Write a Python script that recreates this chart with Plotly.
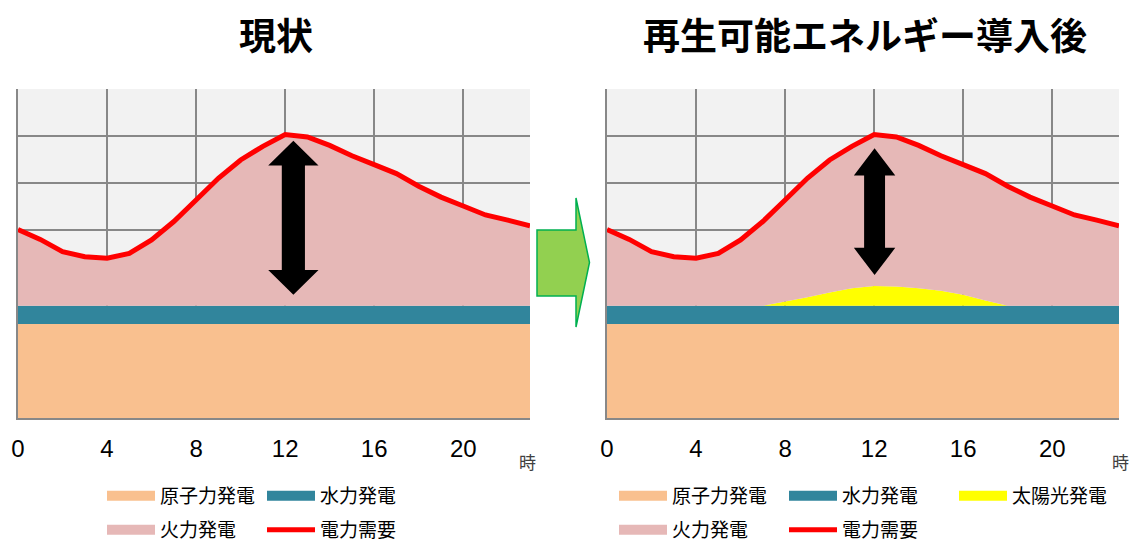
import plotly.graph_objects as go

hours = list(range(24))
demand = [401, 380, 354, 343, 340, 350, 379, 418, 464, 510, 549, 578,
          603, 598, 580, 558, 539, 520, 493, 470, 451, 432, 421, 409]
nuclear = [200] * 24
hydro = [39] * 24
solar = [0, 0, 0, 0, 0, 0, 0, 0, 9, 18, 28, 37,
         42, 41, 37, 32, 23, 11, 0, 0, 0, 0, 0, 0]
xticks = [0, 4, 8, 12, 16, 20]

C_NUC = "#f9c08f"
C_HYD = "#31859c"
C_THR = "#e6b8b7"
C_SOL = "#ffff00"
C_DEM = "#ff0000"
FONT = "Noto Sans CJK JP"

W, H = 1131, 542
L, R, T, B = 18, 12, 89, 124
PW, PH = W - L - R, H - T - B

fig = go.Figure()

def add_chart(xa, ya, with_solar, leg_a, leg_b):
    thermal = [d - n - h - (s if with_solar else 0)
               for d, n, h, s in zip(demand, nuclear, hydro, solar)]
    grp = "g" + xa
    fig.add_trace(go.Scatter(x=hours, y=nuclear, stackgroup=grp, mode="none",
                             fillcolor=C_NUC, name="原子力発電", xaxis=xa, yaxis=ya,
                             showlegend=False, hoverinfo="skip"))
    fig.add_trace(go.Scatter(x=hours, y=hydro, stackgroup=grp, mode="none",
                             fillcolor=C_HYD, name="水力発電", xaxis=xa, yaxis=ya,
                             showlegend=False, hoverinfo="skip"))
    if with_solar:
        fig.add_trace(go.Scatter(x=hours, y=solar, stackgroup=grp, mode="none",
                                 fillcolor=C_SOL, name="太陽光発電", xaxis=xa, yaxis=ya,
                                 showlegend=False, hoverinfo="skip"))
    fig.add_trace(go.Scatter(x=hours, y=thermal, stackgroup=grp, mode="none",
                             fillcolor=C_THR, name="火力発電", xaxis=xa, yaxis=ya,
                             showlegend=False, hoverinfo="skip"))
    fig.add_trace(go.Scatter(x=hours, y=demand, mode="lines",
                             line=dict(color=C_DEM, width=5), name="電力需要",
                             xaxis=xa, yaxis=ya, showlegend=False))
    # legend entries
    row1 = [("原子力発電", C_NUC, 10), ("水力発電", C_HYD, 10)]
    if with_solar:
        row1.append(("太陽光発電", C_SOL, 10))
    row2 = [("火力発電", C_THR, 10), ("電力需要", C_DEM, 5)]
    for items, lg in ((row1, leg_a), (row2, leg_b)):
        for name, col, w in items:
            fig.add_trace(go.Scatter(x=[None], y=[None], mode="lines",
                                     line=dict(color=col, width=w), name=name,
                                     xaxis=xa, yaxis=ya, legend=lg, showlegend=True))

add_chart("x", "y", False, "legend", "legend2")
add_chart("x2", "y2", True, "legend3", "legend4")

axis_common = dict(range=[0, 23], tickvals=xticks, showgrid=True,
                   gridcolor="#888888", gridwidth=1.5, showline=True,
                   linecolor="#888888", linewidth=1.5, ticks="outside",
                   ticklen=8, tickcolor="rgba(0,0,0,0)",
                   tickfont=dict(family="Liberation Sans Narrow, Liberation Sans, Arial", size=24, color="#000000"),
                   zeroline=False, fixedrange=True)
yaxis_common = dict(range=[0, 700], dtick=100, showgrid=True, gridcolor="#888888",
                    gridwidth=1.5, showline=True, linecolor="#888888", linewidth=1.5,
                    showticklabels=False, zeroline=False, fixedrange=True)

d1 = [0, 512 / PW]
d2 = [(607 - L) / PW, 1]

legend_common = dict(orientation="h", xref="container", yref="container",
                     xanchor="left", yanchor="middle", itemwidth=48,
                     font=dict(family=FONT, size=19, color="#000000"),
                     bgcolor="rgba(0,0,0,0)", entrywidthmode="pixels",
                     traceorder="normal",
                     tracegroupgap=0, itemclick=False, itemdoubleclick=False)

fig.update_layout(
    width=W, height=H, margin=dict(l=L, r=R, t=T, b=B),
    paper_bgcolor="#ffffff", plot_bgcolor="#f2f2f2",
    font=dict(family=FONT),
    xaxis=dict(domain=d1, anchor="y", **axis_common),
    yaxis=dict(domain=[0, 1], anchor="x", **yaxis_common),
    xaxis2=dict(domain=d2, anchor="y2", **axis_common),
    yaxis2=dict(domain=[0, 1], anchor="x2", **yaxis_common),
    legend=dict(x=102 / W, y=1 - 496 / H, entrywidth=97, **legend_common),
    legend2=dict(x=102 / W, y=1 - 530 / H, entrywidth=97, **legend_common),
    legend3=dict(x=614 / W, y=1 - 496 / H, entrywidth=107, **legend_common),
    legend4=dict(x=614 / W, y=1 - 530 / H, entrywidth=107, **legend_common),
    showlegend=True,
)

def arrow_path(cx, y_top, y_bot, head_hw, shaft_hw, head_len):
    pts = [(cx, y_top), (cx + head_hw, y_top - head_len), (cx + shaft_hw, y_top - head_len),
           (cx + shaft_hw, y_bot + head_len), (cx + head_hw, y_bot + head_len), (cx, y_bot),
           (cx - head_hw, y_bot + head_len), (cx - shaft_hw, y_bot + head_len),
           (cx - shaft_hw, y_top - head_len), (cx - head_hw, y_top - head_len)]
    return "M " + " L ".join(f"{x},{y}" for x, y in pts) + " Z"

fig.add_shape(type="path", xref="x", yref="y",
              path=arrow_path(12.37, 590, 262, 1.13, 0.52, 53),
              fillcolor="#000000", line=dict(width=0))
fig.add_shape(type="path", xref="x2", yref="y2",
              path=arrow_path(12.02, 574, 304, 0.93, 0.47, 58),
              fillcolor="#000000", line=dict(width=0))

def px2paper(px, py):
    return (px - L) / PW, (H - B - py) / PH

gpts = [(537, 230), (576, 230), (576, 198), (589.5, 262.5), (576, 327), (576, 296), (537, 296)]
gpath = "M " + " L ".join("{:.5f},{:.5f}".format(*px2paper(x, y)) for x, y in gpts) + " Z"
fig.add_shape(type="path", xref="paper", yref="paper", path=gpath,
              fillcolor="#92d050", line=dict(color="#00b050", width=1.5))

for cx, text in ((276, "現状"), (865, "再生可能エネルギー導入後")):
    x, y = px2paper(cx, 34)
    fig.add_annotation(x=x, y=y, xref="paper", yref="paper", text=text, showarrow=False,
                       font=dict(family=FONT, size=37, color="#000000", weight="bold"),
                       xanchor="center", yanchor="middle")

for cx in (527, 1120):
    x, y = px2paper(cx, 461)
    fig.add_annotation(x=x, y=y, xref="paper", yref="paper", text="時", showarrow=False,
                       font=dict(family=FONT, size=17, color="#404040"),
                       xanchor="center", yanchor="middle")

fig.write_html("out.html", config={"displayModeBar": False},
               post_script="document.body.style.margin='0px';document.body.style.padding='0px';")
